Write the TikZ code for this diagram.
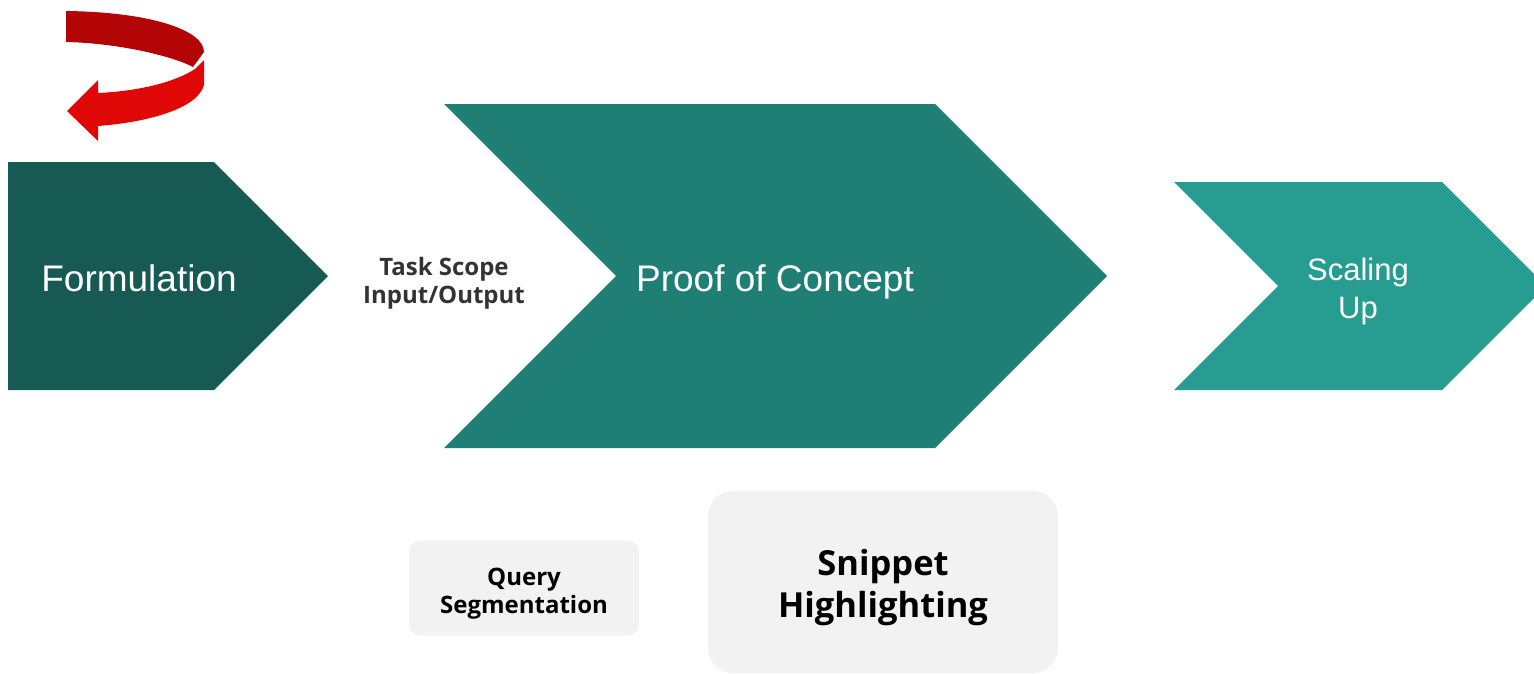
\documentclass[tikz,border=0pt]{standalone}
\usepackage{fontspec}
\setmainfont{Liberation Sans}
\newfontfamily\labelfont{Open Sans}
\usepackage{xcolor}

\definecolor{formgreen}{HTML}{165A53}
\definecolor{proofgreen}{HTML}{1F7F75}
\definecolor{scalegreen}{HTML}{279C91}
\definecolor{turndark}{HTML}{B30505}
\definecolor{turnred}{HTML}{E00707}
\definecolor{panelgray}{HTML}{F2F2F2}
\definecolor{labelgray}{HTML}{333333}

\begin{document}
\begin{tikzpicture}[x=1pt,y=-1pt,
    stage/.style={text=white, font=\fontsize{37}{44}\selectfont},
    tag/.style={text=labelgray, align=center, font=\labelfont\bfseries\fontsize{24}{28}\selectfont},
    panel/.style={fill=panelgray, inner sep=0pt}]
    \useasboundingbox (0,0) rectangle (1534,673);
    \clip (0,0) rectangle (1534,673);

    % three stages as chevrons
    \fill[formgreen] (8,162)--(214,162)--(328,276)--(214,390)--(8,390)--cycle;
    \fill[proofgreen] (444,104)--(935,104)--(1107,276)--(935,448)--(444,448)--(616,276)--cycle;
    \fill[scalegreen] (1174,182)--(1442,182)--(1546,286)--(1442,390)--(1174,390)--(1278,286)--cycle;

    \node[stage, anchor=base] (formulation) at (139,291) {Formulation};
    \node[stage, anchor=base] (proof) at (775,291) {Proof of Concept};
    \node[stage, align=center, font=\fontsize{31}{38}\selectfont] (scaling) at (1358,291) {Scaling\\Up};

    \node[tag] (scope) at (444,283) {Task Scope\\Input/Output};

    % iteration arrow above the first stage
    \fill[turndark] (66,11) .. controls (150,12) and (204,30) .. (204,52)
        -- (193,67) .. controls (170,55) and (115,43) .. (66,42) -- cycle;
    \fill[turnred] (204,60) -- (204,85) .. controls (198,108) and (150,122) .. (98,126)
        -- (98,141) -- (67,111) -- (98,80) -- (98,93)
        .. controls (140,91) and (175,82) .. (195,69) -- cycle;

    % tasks under the stages
    \node[panel, rounded corners=12pt, minimum width=230pt, minimum height=95pt] (query) at (524,588) {};
    \node[tag, text=black] (querytext) at ([yshift=-5.5pt]query.center) {Query\\Segmentation};
    \node[panel, rounded corners=25pt, minimum width=350pt, minimum height=182pt] (snippet) at (883,582) {};
    \node[tag, text=black, font=\labelfont\bfseries\fontsize{34.5}{42}\selectfont] (snippettext) at ([yshift=-5.5pt]snippet.center) {Snippet\\Highlighting};
\end{tikzpicture}
\end{document}
